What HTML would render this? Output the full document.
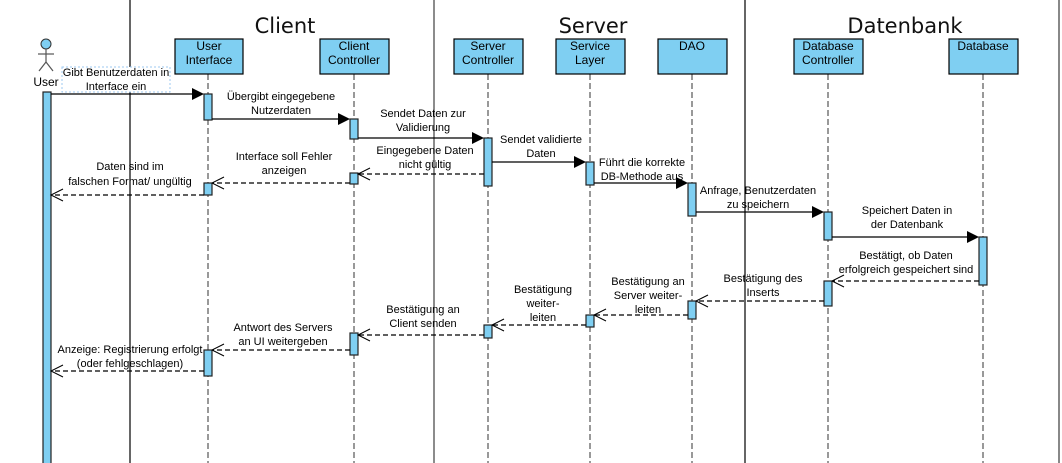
<!DOCTYPE html>
<html><head><meta charset="utf-8"><style>
html,body{margin:0;padding:0;background:#fff;}
svg{display:block;}
text{font-family:"Liberation Sans",Arial,sans-serif;fill:#000;}
.lbl{font-size:11px;text-anchor:middle;}
.bx{font-size:12px;text-anchor:middle;}
.ttl{font-family:"DejaVu Sans","Liberation Sans",sans-serif;font-size:21px;text-anchor:middle;fill:#111;}
.life{stroke:#333;stroke-width:1;stroke-dasharray:6,3;fill:none;}
.act{fill:#7fcff2;stroke:#222;stroke-width:1.2;}
.sol{stroke:#000;stroke-width:1.2;fill:none;}
.das{stroke:#000;stroke-width:1.2;stroke-dasharray:5,3;fill:none;}
.open{stroke:#000;stroke-width:1;fill:none;}
</style></head><body>
<svg width="1062" height="463" viewBox="0 0 1062 463" xmlns="http://www.w3.org/2000/svg">
<rect width="1062" height="463" fill="#fff"/>
<!-- separators -->
<line x1="130" y1="0" x2="130" y2="463" stroke="#000" stroke-width="1.2"/>
<line x1="434" y1="0" x2="434" y2="463" stroke="#666" stroke-width="1.5"/>
<line x1="745" y1="0" x2="745" y2="463" stroke="#000" stroke-width="1.2"/>
<line x1="1059" y1="0" x2="1059" y2="463" stroke="#888" stroke-width="2"/>
<text class="ttl" x="285" y="33">Client</text>
<text class="ttl" x="593" y="33">Server</text>
<text class="ttl" x="905" y="33">Datenbank</text>

<!-- lifelines -->
<line class="life" x1="208" y1="74" x2="208" y2="463"/>
<line class="life" x1="354" y1="74" x2="354" y2="463"/>
<line class="life" x1="488" y1="74" x2="488" y2="463"/>
<line class="life" x1="590" y1="74" x2="590" y2="463"/>
<line class="life" x1="692" y1="74" x2="692" y2="463"/>
<line class="life" x1="828" y1="74" x2="828" y2="463"/>
<line class="life" x1="983" y1="74" x2="983" y2="463"/>

<!-- boxes -->
<g fill="#7fcff2" stroke="#000" stroke-width="1.2">
<rect x="175" y="39" width="68" height="35"/>
<rect x="320" y="39" width="69" height="35"/>
<rect x="454" y="39" width="69" height="35"/>
<rect x="556" y="39" width="69" height="35"/>
<rect x="658" y="39" width="69" height="35"/>
<rect x="794" y="39" width="69" height="35"/>
<rect x="949" y="39" width="69" height="35"/>
</g>
<text class="bx" x="209" y="50">User</text><text class="bx" x="209" y="64">Interface</text>
<text class="bx" x="354" y="50">Client</text><text class="bx" x="354" y="64">Controller</text>
<text class="bx" x="488" y="50">Server</text><text class="bx" x="488" y="64">Controller</text>
<text class="bx" x="590" y="50">Service</text><text class="bx" x="590" y="64">Layer</text>
<text class="bx" x="692" y="50">DAO</text>
<text class="bx" x="828" y="50">Database</text><text class="bx" x="828" y="64">Controller</text>
<text class="bx" x="983" y="50">Database</text>

<!-- actor -->
<circle cx="46" cy="44" r="5" fill="#7fcff2" stroke="#333" stroke-width="1"/>
<g stroke="#555" stroke-width="1.2">
<line x1="46" y1="49" x2="46" y2="62"/>
<line x1="38" y1="54" x2="54" y2="54"/>
<line x1="46" y1="62" x2="39" y2="71"/>
<line x1="46" y1="62" x2="53" y2="71"/>
</g>
<text class="bx" x="46" y="86">User</text>
<rect x="43" y="92" width="8" height="375" class="act" stroke="#555"/>

<!-- message 1 label box -->
<rect x="62" y="67" width="108" height="25" fill="#fff" stroke="#9cc8f0" stroke-dasharray="2,2"/>
<text class="lbl" x="116" y="76">Gibt Benutzerdaten in</text>
<text class="lbl" x="116" y="90">Interface ein</text>

<!-- activations -->
<rect class="act" x="204" y="94" width="8" height="26"/>
<rect class="act" x="350" y="119" width="8" height="20"/>
<rect class="act" x="484" y="138" width="8" height="48"/>
<rect class="act" x="586" y="162" width="8" height="23"/>
<rect class="act" x="688" y="183" width="8" height="33"/>
<rect class="act" x="824" y="212" width="8" height="28"/>
<rect class="act" x="979" y="237" width="8" height="48"/>
<rect class="act" x="824" y="281" width="8" height="25"/>
<rect class="act" x="688" y="301" width="8" height="18"/>
<rect class="act" x="586" y="315" width="8" height="12"/>
<rect class="act" x="484" y="325" width="8" height="13"/>
<rect class="act" x="350" y="333" width="8" height="22"/>
<rect class="act" x="204" y="350" width="8" height="26"/>
<rect class="act" x="350" y="173" width="8" height="11"/>
<rect class="act" x="204" y="183" width="8" height="12"/>

<!-- solid arrows -->
<g>
<line class="sol" x1="51" y1="94" x2="194" y2="94"/><polygon points="192,88 204,94 192,100"/>
<line class="sol" x1="212" y1="119" x2="340" y2="119"/><polygon points="338,113 350,119 338,125"/>
<line class="sol" x1="358" y1="138" x2="474" y2="138"/><polygon points="472,132 484,138 472,144"/>
<line class="sol" x1="492" y1="162" x2="576" y2="162"/><polygon points="574,156 586,162 574,168"/>
<line class="sol" x1="594" y1="183" x2="678" y2="183"/><polygon points="676,177 688,183 676,189"/>
<line class="sol" x1="696" y1="212" x2="814" y2="212"/><polygon points="812,206 824,212 812,218"/>
<line class="sol" x1="832" y1="237" x2="969" y2="237"/><polygon points="967,231 979,237 967,243"/>
</g>

<!-- dashed returns -->
<g>
<line class="das" x1="484" y1="174" x2="359" y2="174"/><polyline class="open" points="370,168 358,174 370,180"/>
<line class="das" x1="350" y1="183" x2="213" y2="183"/><polyline class="open" points="224,177 212,183 224,189"/>
<line class="das" x1="204" y1="195" x2="52" y2="195"/><polyline class="open" points="63,189 51,195 63,201"/>
<line class="das" x1="979" y1="281" x2="833" y2="281"/><polyline class="open" points="844,275 832,281 844,287"/>
<line class="das" x1="824" y1="301" x2="697" y2="301"/><polyline class="open" points="708,295 696,301 708,307"/>
<line class="das" x1="688" y1="315" x2="595" y2="315"/><polyline class="open" points="606,309 594,315 606,321"/>
<line class="das" x1="586" y1="325" x2="493" y2="325"/><polyline class="open" points="504,319 492,325 504,331"/>
<line class="das" x1="484" y1="335" x2="359" y2="335"/><polyline class="open" points="370,329 358,335 370,341"/>
<line class="das" x1="350" y1="350" x2="213" y2="350"/><polyline class="open" points="224,344 212,350 224,356"/>
<line class="das" x1="204" y1="371" x2="52" y2="371"/><polyline class="open" points="63,365 51,371 63,377"/>
</g>

<!-- labels -->
<text class="lbl" x="281" y="100">Übergibt eingegebene</text><text class="lbl" x="281" y="114">Nutzerdaten</text>
<text class="lbl" x="423" y="117">Sendet Daten zur</text><text class="lbl" x="423" y="131">Validierung</text>
<text class="lbl" x="541" y="143">Sendet validierte</text><text class="lbl" x="541" y="157">Daten</text>
<text class="lbl" x="642" y="166">Führt die korrekte</text><text class="lbl" x="642" y="180">DB-Methode aus</text>
<text class="lbl" x="758" y="194">Anfrage, Benutzerdaten</text><text class="lbl" x="758" y="208">zu speichern</text>
<text class="lbl" x="907" y="214">Speichert Daten in</text><text class="lbl" x="907" y="228">der Datenbank</text>
<text class="lbl" x="906" y="259">Bestätigt, ob Daten</text><text class="lbl" x="906" y="273">erfolgreich gespeichert sind</text>
<text class="lbl" x="763" y="282">Bestätigung des</text><text class="lbl" x="763" y="296">Inserts</text>
<text class="lbl" x="648" y="285">Bestätigung an</text><text class="lbl" x="648" y="299">Server weiter-</text><text class="lbl" x="648" y="313">leiten</text>
<text class="lbl" x="543" y="293">Bestätigung</text><text class="lbl" x="543" y="307">weiter-</text><text class="lbl" x="543" y="321">leiten</text>
<text class="lbl" x="423" y="313">Bestätigung an</text><text class="lbl" x="423" y="327">Client senden</text>
<text class="lbl" x="283" y="331">Antwort des Servers</text><text class="lbl" x="283" y="345">an UI weitergeben</text>
<text class="lbl" x="130" y="353">Anzeige: Registrierung erfolgt</text><text class="lbl" x="130" y="367">(oder fehlgeschlagen)</text>
<text class="lbl" x="425" y="154">Eingegebene Daten</text><text class="lbl" x="425" y="168">nicht gültig</text>
<text class="lbl" x="284" y="160">Interface soll Fehler</text><text class="lbl" x="284" y="174">anzeigen</text>
<text class="lbl" x="130" y="170">Daten sind im</text><text class="lbl" x="130" y="185">falschen Format/ ungültig</text>
</svg>
</body></html>
